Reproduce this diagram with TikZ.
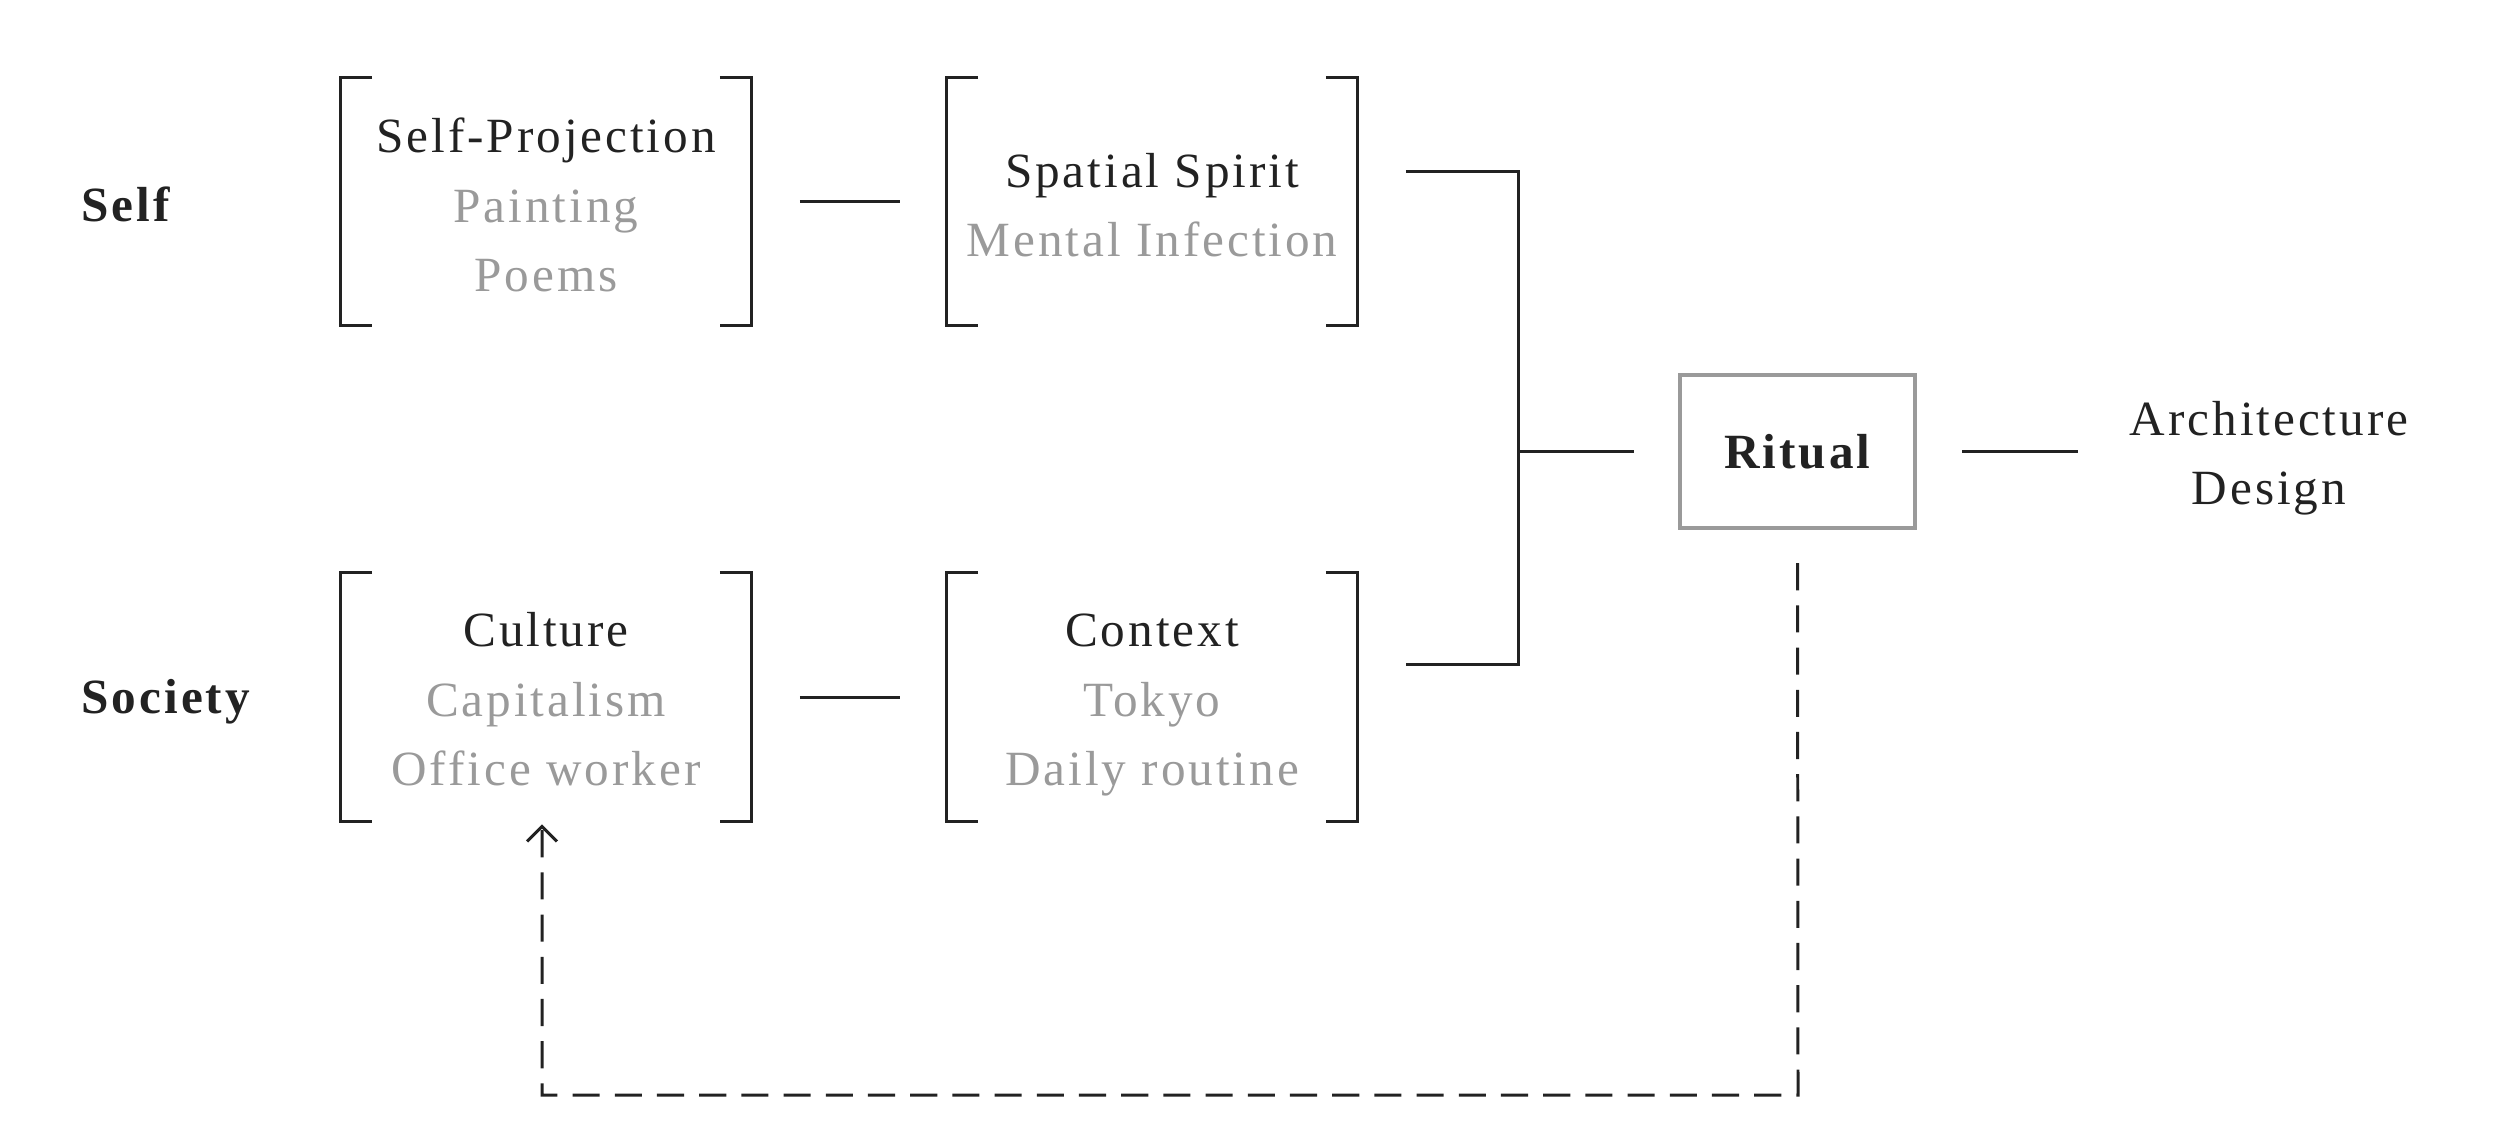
\documentclass[tikz,border=0pt]{standalone}
\usepackage{fontspec}
\setmainfont[LetterSpace=6]{Liberation Serif}
\usetikzlibrary{arrows.meta}
\definecolor{ink}{HTML}{222222}
\definecolor{soft}{HTML}{9A9A9A}
\tikzset{
  txt/.style={font=\fontsize{14}{19.9}\selectfont, text=ink, align=center, inner sep=0pt},
  lab/.style={font=\fontsize{14}{19.9}\selectfont\bfseries, text=ink, inner sep=0pt, anchor=west},
  brbox/.style={minimum width=4.1cm, minimum height=2.47cm, inner sep=0pt},
  ln/.style={draw=ink, line width=0.85pt},
  ritbox/.style={draw=soft, line width=1.2pt, minimum width=2.35cm, minimum height=1.53cm, inner sep=0pt, font=\fontsize{14}{19.9}\selectfont\bfseries, text=ink}
}
\newcommand{\brk}[1]{%
  \draw[ln] ([xshift=0.32cm]#1.north west) -- (#1.north west) -- (#1.south west) -- ([xshift=0.32cm]#1.south west);
  \draw[ln] ([xshift=-0.32cm]#1.north east) -- (#1.north east) -- (#1.south east) -- ([xshift=-0.32cm]#1.south east);}
\newcommand{\softline}[1]{\textcolor{soft}{\strut #1}}
\begin{document}
\begin{tikzpicture}[x=0.01cm,y=-0.01cm]
\useasboundingbox (0,0) rectangle (2500,1133);
\node[lab] (self) at (81,204) {Self};
\node[lab] (soc) at (81,702) {Society};
\node[brbox] (b1) at (546,201.5) {};
\node[brbox] (b2) at (1152,201.5) {};
\node[brbox] (b3) at (546,697) {};
\node[brbox] (b4) at (1152,697) {};
\node[txt] (t1) at ([yshift=-0.065cm]b1.center) {\strut Self-Projection\\\softline{Painting}\\\softline{Poems}};
\node[txt] (t2) at ([yshift=-0.065cm]b2.center) {\strut Spatial Spirit\\\softline{Mental Infection}};
\node[txt] (t3) at ([yshift=-0.05cm]b3.center) {\strut Culture\\\softline{Capitalism}\\\softline{Office worker}};
\node[txt] (t4) at ([yshift=-0.05cm]b4.center) {\strut Context\\\softline{Tokyo}\\\softline{Daily routine}};
\brk{b1}\brk{b2}\brk{b3}\brk{b4}
\node[ritbox] (rit) at (1797.5,451.5) {Ritual};
\node[txt] (arch) at (2269,456) {\strut Architecture\\\strut Design};
\draw[ln, shorten <=0.48cm, shorten >=0.46cm] (b1.east) -- (b2.west);
\draw[ln, shorten <=0.48cm, shorten >=0.46cm] (b3.east) -- (b4.west);
\coordinate (jt) at (1518,171);
\coordinate (jb) at (1518,664);
\coordinate (jm) at (1518,451.5);
\coordinate (ae) at (2078,451.5);
\draw[ln] ([xshift=0.48cm]b2.east |- jt) -- (jt) -- (jb) -- ([xshift=0.48cm]b4.east |- jb);
\draw[ln, shorten >=0.44cm] (jm) -- (rit.west);
\draw[ln, shorten <=0.45cm] (rit.east) -- (ae);
\coordinate (dl) at (1798,1095);
\coordinate (dr) at (542,1095);
\draw[ln, dash pattern=on 7.7pt off 4.3pt, -{Straight Barb[length=4.3pt,width=8.5pt]}, shorten <=0.33cm]
  (rit.south) -- (dl) -- (dr) -- ([yshift=-0.03cm]b3.south -| dr);
\end{tikzpicture}
\end{document}
